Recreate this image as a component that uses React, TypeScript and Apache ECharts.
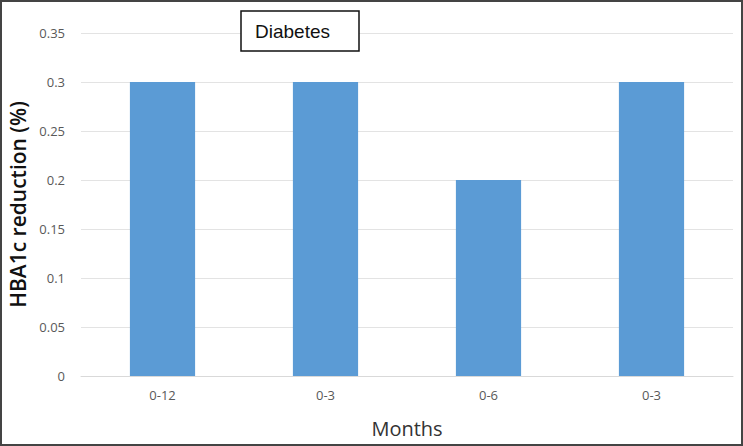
import React, { useEffect, useRef } from "react";
import * as echarts from "echarts";

const categories = ["0-12", "0-3", "0-6", "0-3"];
const values = [0.3, 0.3, 0.2, 0.3];
const yTicks = { min: 0, max: 0.35, interval: 0.05 };
const titleText = "Diabetes";
const xName = "Months";
const yName = "HBA1c reduction (%)";

export default function App() {
  const ref = useRef<HTMLDivElement>(null);
  useEffect(() => {
    document.body.style.margin = "0";
    const chart = echarts.init(ref.current!, null, { renderer: "svg" });
    chart.setOption({
      animation: false,
      backgroundColor: "#ffffff",
      grid: {
        left: 81,
        right: 10,
        top: 33,
        bottom: 70,
        containLabel: false,
        outerBoundsMode: "none",
      },
      xAxis: {
        type: "category",
        data: categories,
        axisLine: { show: true, lineStyle: { color: "#d9d9d9", width: 1 } },
        axisTick: { show: false },
        axisLabel: {
          color: "#595959",
          fontSize: 13,
          fontFamily: "Open Sans",
          margin: 12,
        },
        name: xName,
        nameLocation: "middle",
        nameGap: 42,
        nameTextStyle: { color: "#333333", fontSize: 20, fontFamily: "Open Sans" },
      },
      yAxis: {
        type: "value",
        min: yTicks.min,
        max: yTicks.max,
        interval: yTicks.interval,
        axisLine: { show: false },
        axisTick: { show: false },
        splitLine: { lineStyle: { color: "#e3e3e3", width: 1 } },
        axisLabel: {
          color: "#595959",
          fontSize: 13,
          fontFamily: "Open Sans",
          margin: 16,
        },
        name: yName,
        nameLocation: "middle",
        nameGap: 52,
        nameTextStyle: {
          color: "#111111",
          fontSize: 21,
          fontFamily: "Open Sans",
          fontWeight: 600,
        },
      },
      series: [
        {
          type: "bar",
          data: values,
          barWidth: "40%",
          itemStyle: { color: "#5b9bd5" },
        },
      ],
      graphic: [
        {
          type: "rect",
          shape: { x: 241, y: 11, width: 118, height: 40 },
          style: { fill: "#ffffff", stroke: "#111111", lineWidth: 1.5 },
          z: 10,
        },
        {
          type: "text",
          x: 255,
          y: 31,
          style: {
            text: titleText,
            fill: "#111111",
            fontSize: 19,
            fontFamily: "Liberation Sans",
            verticalAlign: "middle",
          },
          z: 11,
        },
        {
          type: "rect",
          shape: { x: 1, y: 1, width: 741, height: 444 },
          style: { fill: "none", stroke: "#444444", lineWidth: 2 },
          z: 20,
        },
      ],
    });
    return () => chart.dispose();
  }, []);
  return <div ref={ref} style={{ width: 743, height: 446 }} />;
}
